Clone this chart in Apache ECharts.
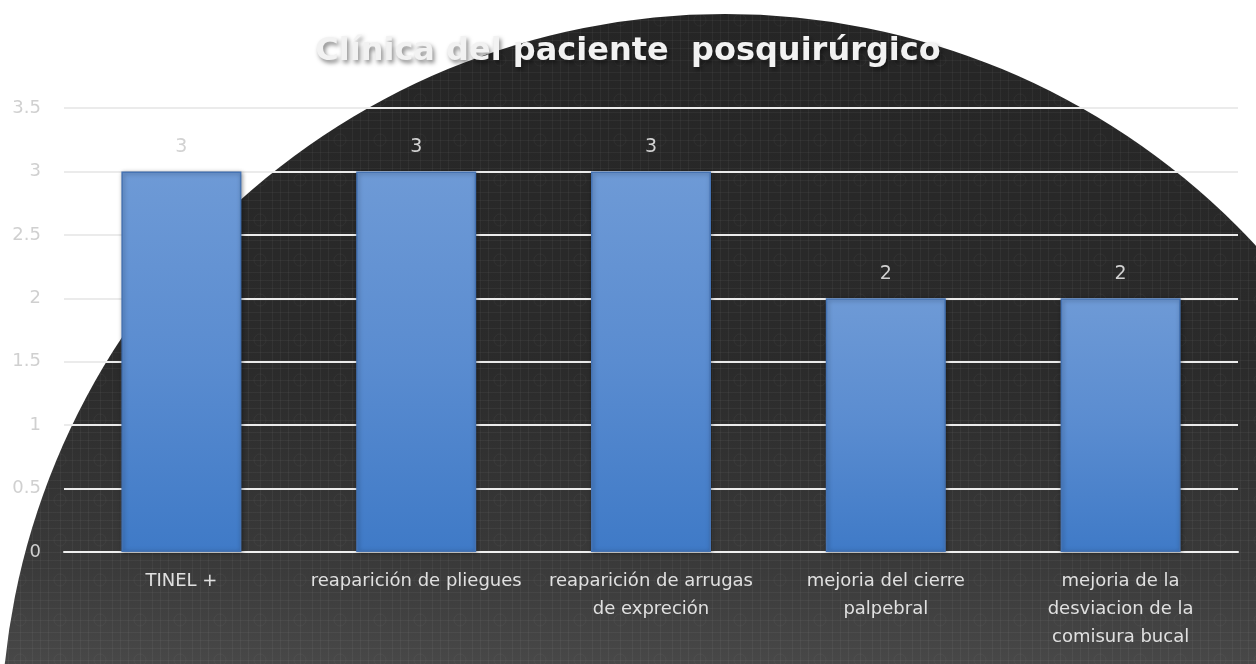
<!DOCTYPE html>
<html>
<head>
<meta charset="utf-8">
<title>Clínica del paciente posquirúrgico</title>
<script src="https://cdn.jsdelivr.net/npm/echarts@6/dist/echarts.min.js"></script>
<style>
  html, body { margin: 0; padding: 0; background: #ffffff; }
  #chart { width: 1256px; height: 664px; }
</style>
</head>
<body>
<div id="chart"></div>
<script>
// Chart data
const chartTitle = 'Clínica del paciente  posquirúrgico';
const categories = [
  'TINEL +',
  'reaparición de pliegues',
  'reaparición de arrugas\nde expreción',
  'mejoria del cierre\npalpebral',
  'mejoria de la\ndesviacion de la\ncomisura bucal'
];
const values = [3, 3, 3, 2, 2];
const yMin = 0;
const yMax = 3.5;
const yStep = 0.5;

// Subtle lattice texture for the dark backdrop disc
function makeTexture() {
  const c = document.createElement('canvas');
  const s = 40;
  c.width = s; c.height = s;
  const g = c.getContext('2d');
  g.strokeStyle = 'rgba(255,255,255,0.045)';
  g.lineWidth = 1;
  [0.5, 8.5, 20.5, 32.5].forEach(p => {
    g.beginPath(); g.moveTo(p, 0); g.lineTo(p, s); g.stroke();
    g.beginPath(); g.moveTo(0, p); g.lineTo(s, p); g.stroke();
  });
  g.strokeStyle = 'rgba(255,255,255,0.04)';
  g.beginPath(); g.arc(20, 20, 6, 0, Math.PI * 2); g.stroke();
  return c;
}

const chart = echarts.init(document.getElementById('chart'), null, { renderer: 'canvas' });

const labelFont = 'DejaVu Sans';

const option = {
  backgroundColor: '#ffffff',
  animation: false,
  title: {
    text: chartTitle,
    left: 'center',
    top: 31,
    textStyle: {
      fontFamily: 'DejaVu Sans',
      fontWeight: 'bold',
      fontSize: 32,
      color: '#f2f2f2',
      textShadowColor: 'rgba(0,0,0,0.45)',
      textShadowBlur: 4,
      textShadowOffsetX: 2,
      textShadowOffsetY: 3
    }
  },
  graphic: [
    {
      type: 'circle',
      z: -100,
      silent: true,
      shape: { cx: 725, cy: 738, r: 724 },
      style: {
        fill: {
          type: 'linear', x: 0, y: 15, x2: 0, y2: 664, global: true,
          colorStops: [
            { offset: 0, color: '#252525' },
            { offset: 0.55, color: '#2b2b2b' },
            { offset: 0.85, color: '#3a3a3a' },
            { offset: 1, color: '#484848' }
          ]
        }
      }
    },
    {
      type: 'circle',
      z: -99,
      silent: true,
      shape: { cx: 725, cy: 738, r: 724 },
      style: {
        fill: { image: makeTexture(), repeat: 'repeat' }
      }
    }
  ],
  grid: {
    left: 64,
    right: 18,
    top: 108,
    bottom: 112,
    containLabel: false
  },
  xAxis: {
    type: 'category',
    data: categories,
    axisTick: { show: false },
    axisLine: { show: true, lineStyle: { color: '#efefef', width: 2 } },
    axisLabel: {
      color: '#e0e0e0',
      fontFamily: labelFont,
      fontSize: 18,
      lineHeight: 28,
      margin: 15,
      interval: 0
    }
  },
  yAxis: {
    type: 'value',
    min: yMin,
    max: yMax,
    interval: yStep,
    axisLine: { show: false },
    axisTick: { show: false },
    axisLabel: {
      color: '#d0d0d0',
      fontFamily: labelFont,
      fontSize: 18,
      margin: 23
    },
    splitLine: { lineStyle: { color: '#ebebeb', width: 2 } }
  },
  series: [
    {
      type: 'bar',
      data: values,
      barWidth: 120,
      itemStyle: {
        color: {
          type: 'linear', x: 0, y: 0, x2: 0, y2: 1,
          colorStops: [
            { offset: 0, color: '#6e9ad6' },
            { offset: 0.5, color: '#5a8cd0' },
            { offset: 1, color: '#3f7ac7' }
          ]
        },
        borderColor: '#4573b3',
        borderWidth: 1.5,
        shadowColor: 'rgba(0,0,0,0.35)',
        shadowBlur: 4,
        shadowOffsetX: 1,
        shadowOffsetY: 1
      },
      label: {
        show: true,
        position: 'top',
        distance: 15,
        color: '#d2d2d2',
        fontFamily: labelFont,
        fontSize: 19
      }
    }
  ]
};

chart.setOption(option);
</script>
</body>
</html>
